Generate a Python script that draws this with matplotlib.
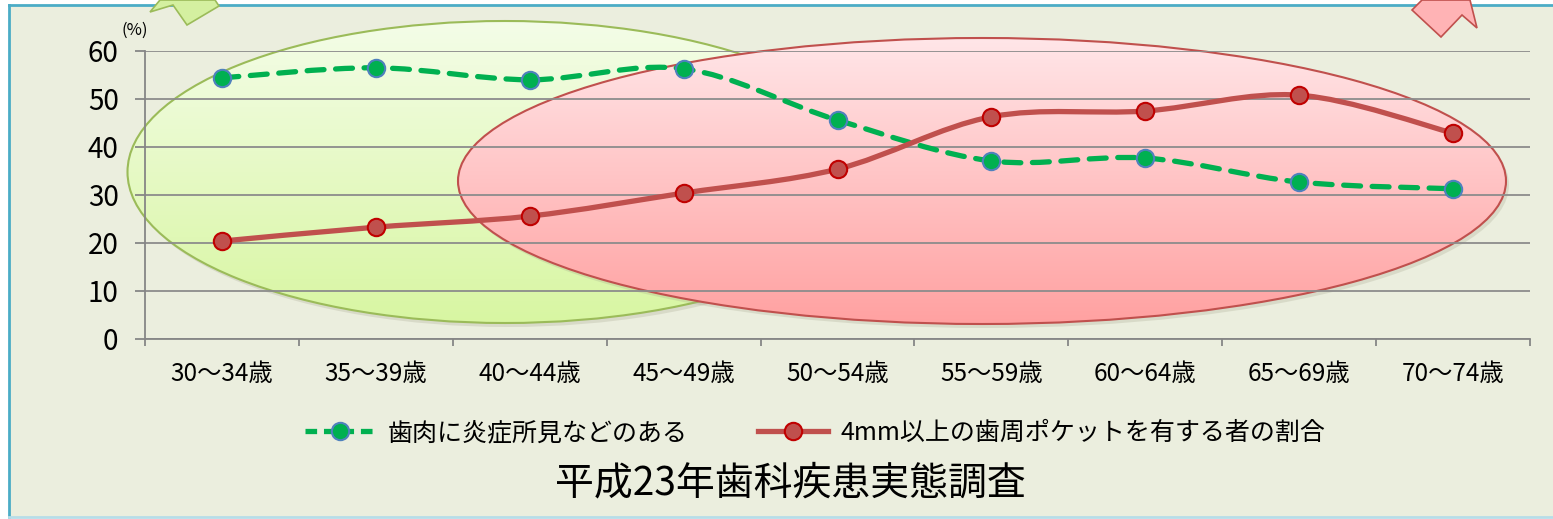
import numpy as np
import matplotlib
matplotlib.use("Agg")
import matplotlib.pyplot as plt
from matplotlib.path import Path
from matplotlib.patches import Ellipse, Polygon, Rectangle, PathPatch
from matplotlib.lines import Line2D
from matplotlib.colors import LinearSegmentedColormap

plt.rcParams['font.family'] = ['Noto Sans CJK JP', 'DejaVu Sans']

# data
ages = ['30〜34歳', '35〜39歳', '40〜44歳', '45〜49歳', '50〜54歳',
        '55〜59歳', '60〜64歳', '65〜69歳', '70〜74歳']
gum = [54.4, 56.5, 54.0, 56.3, 45.6, 37.1, 37.7, 32.7, 31.3]
pocket = [20.4, 23.3, 25.6, 30.4, 35.4, 46.3, 47.5, 50.8, 42.9]
gum_label = '歯肉に炎症所見などのある'
pocket_label = '4mm以上の歯周ポケットを有する者の割合'
title = '平成23年歯科疾患実態調査'
yticks = [0, 10, 20, 30, 40, 50, 60]


def smooth_path(x, y):
    # excel style smoothed line: cubic bezier through the points
    p = np.column_stack([x, y]).astype(float)
    n = len(p)
    verts = [p[0]]
    codes = [Path.MOVETO]
    for i in range(n - 1):
        p0 = p[max(i - 1, 0)]
        p1 = p[i]
        p2 = p[i + 1]
        p3 = p[min(i + 2, n - 1)]
        verts += [p1 + (p2 - p0) / 6, p2 - (p3 - p1) / 6, p2]
        codes += [Path.CURVE4] * 3
    return Path(verts, codes)


W, H = 1553, 519
fig = plt.figure(figsize=(W / 100, H / 100), dpi=100)
fig.patch.set_facecolor('white')

# background layer in pixel coordinates (frame, ellipses, arrows)
bg = fig.add_axes([0, 0, 1, 1], zorder=0)
bg.set_axis_off()
bg.add_patch(Rectangle((9, 5), W, 512, facecolor='#ebeede', edgecolor='none', zorder=0))
bg.plot([9, 9], [5, 517], color='#4bacc6', lw=2, zorder=1)
bg.plot([9, W], [5, 5], color='#4bacc6', lw=2, zorder=1)
bg.plot([9, W], [517, 517], color='#b7dde8', lw=2, zorder=1)


def grad_ellipse(cx, cy, w, h, c_top, c_bot, edge, z):
    sh = Ellipse((cx + 3, cy + 4), w, h, facecolor='#a0a088', edgecolor='none', alpha=0.25, zorder=z)
    bg.add_patch(sh)
    el = Ellipse((cx, cy), w, h, facecolor='none', edgecolor=edge, lw=1.5, zorder=z + 0.2)
    bg.add_patch(el)
    cmap = LinearSegmentedColormap.from_list('g', [c_top, c_bot])
    grad = np.linspace(0, 1, 256).reshape(-1, 1)
    im = bg.imshow(grad, cmap=cmap, aspect='auto', origin='upper',
                   extent=[cx - w / 2, cx + w / 2, cy + h / 2, cy - h / 2], zorder=z + 0.1)
    im.set_clip_path(el)


grad_ellipse(505, 172, 755, 302, '#f4fde8', '#d8f6a2', '#9bbb59', 2)
grad_ellipse(982, 181, 1048, 286, '#ffe6e8', '#ffa1a1', '#c0504d', 3)

bg.add_patch(Polygon([(150, 12), (160, 0), (215, 0), (219, 6), (187, 25), (173, 5)],
                     closed=True, facecolor='#d4f0a0', edgecolor='#9bbb59', lw=1.2, zorder=5))
bg.add_patch(Polygon([(1412, 10), (1422, 0), (1470, 0), (1477, 28), (1462, 15), (1441, 37)],
                     closed=True, facecolor='#ffb3b5', edgecolor='#c0504d', lw=1.2, zorder=5))
bg.set_xlim(0, W)
bg.set_ylim(H, 0)

# chart
ax = fig.add_axes([145 / W, 180 / H, 1385 / W, 288 / H], zorder=1)
ax.set_facecolor('none')
x = np.arange(len(ages))

ax.add_patch(PathPatch(smooth_path(x, gum), facecolor='none', edgecolor='#00b050', lw=3.8,
                       linestyle=(0, (3.2, 2.2)), capstyle='round', zorder=3))
ax.add_patch(PathPatch(smooth_path(x, pocket), facecolor='none', edgecolor='#c0504d', lw=3.8,
                       capstyle='round', zorder=3))
ax.plot(x, gum, linestyle='none', marker='o', ms=12.5, mfc='#00b050', mec='#4f81bd', mew=1.5, zorder=4)
ax.plot(x, pocket, linestyle='none', marker='o', ms=12.5, mfc='#c0504d', mec='#c00000', mew=1.5, zorder=4)

ax.set_xlim(-0.5, len(ages) - 0.5)
ax.set_ylim(0, 60)
ax.set_yticks(yticks)
ax.set_yticklabels([str(v) for v in yticks], fontsize=20)
ax.set_xticks(x)
ax.set_xticklabels(ages, fontsize=17.5)
ax.set_xticks(np.arange(len(ages) + 1) - 0.5, minor=True)
ax.tick_params(axis='x', which='major', length=0, pad=16)
ax.tick_params(axis='x', which='minor', length=5, width=1.3, color='#868686', direction='out')
ax.tick_params(axis='y', length=7, width=1.3, color='#868686', pad=12)
ax.grid(axis='y', color='#8c8c8c', lw=1.3, zorder=1)
ax.set_axisbelow(True)
for s in ['top', 'right']:
    ax.spines[s].set_visible(False)
for s in ['left', 'bottom']:
    ax.spines[s].set_color('#868686')
    ax.spines[s].set_linewidth(1.3)

fig.text(135 / W, 1 - 30 / H, '(%)', fontsize=12, ha='center', va='center')

handles = [
    Line2D([], [], color='#00b050', lw=3.8, linestyle=(0, (2.2, 1.3)), marker='o', ms=12.5,
           mfc='#00b050', mec='#4f81bd', mew=1.5),
    Line2D([], [], color='#c0504d', lw=3.8, marker='o', ms=12.5, mfc='#c0504d', mec='#c00000', mew=1.5),
]
fig.legend(handles, [gum_label, pocket_label], loc='center', bbox_to_anchor=(815 / W, 86 / H),
           ncol=2, frameon=False, fontsize=18, handlelength=2.8, handletextpad=0.5, columnspacing=2.8)
fig.text(790 / W, 36 / H, title, fontsize=28, ha='center', va='center')

fig.savefig('out.png', dpi=100)
